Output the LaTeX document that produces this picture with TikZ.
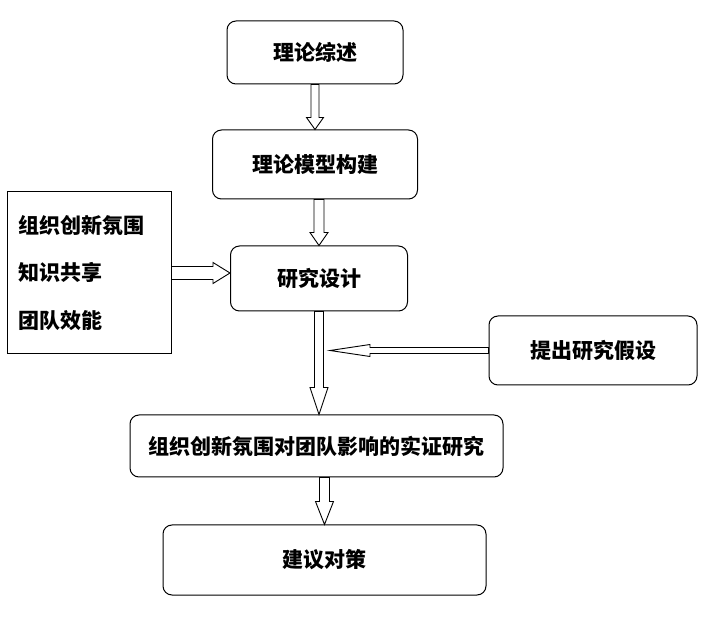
\documentclass[tikz,border=0pt]{standalone}
\usepackage{fontspec}
\newfontfamily\cjk{Noto Sans CJK SC}
\usetikzlibrary{calc, positioning}

\begin{document}
\begin{tikzpicture}[x=1pt, y=-1pt, font=\cjk\bfseries\fontsize{21}{25}\selectfont,
        n/.style={draw, line width=1pt, rounded corners=9pt},
        n2/.style={draw, line width=1pt, align=left, text width=140pt},
        e/.style n args={3}{draw, line width=0.9pt, to path={
            ($(\tikztostart)!#1!90:(\tikztotarget)$)
            -- ($(\tikztotarget)!#3!(\tikztostart)!#1!90:(\tikztotarget)$)
            -- ($(\tikztotarget)!#3!(\tikztostart)!#2!90:(\tikztotarget)$)
            -- (\tikztotarget)
            -- ($(\tikztotarget)!#3!(\tikztostart)!#2!-90:(\tikztotarget)$)
            -- ($(\tikztotarget)!#3!(\tikztostart)!#1!-90:(\tikztotarget)$)
            -- ($(\tikztostart)!#1!-90:(\tikztotarget)$) -- cycle}}]
        \useasboundingbox (0,0) rectangle (705,620);

        \node[n, minimum width=176pt, minimum height=63pt] (n1) at (315,52.5) {理论综述};
        \node[n, minimum width=205pt, minimum height=69pt, below=45pt of n1] (n2) {理论模型构建};
        \node[n, minimum width=177pt, minimum height=65pt, below=46pt of n2, xshift=4pt] (n3) {研究设计};
        \node[n2, minimum width=164pt, minimum height=162pt, font=\cjk\bfseries\fontsize{21}{47.5}\selectfont] (nl) at (89,273) {组织创新氛围\\知识共享\\团队效能};
        \node[n, minimum width=208pt, minimum height=69pt] (nr) at (593,350.5) {提出研究假设};
        \node[n, minimum width=373pt, minimum height=62pt] (n4) at (316.5,446) {组织创新氛围对团队影响的实证研究};
        \node[n, minimum width=323pt, minimum height=70pt] (n5) at (324.5,560) {建议对策};
        \coordinate (hp) at (330,349);

        \draw[e={4pt}{8.5pt}{12pt}] (n1.south) to (n2.north);
        \draw[e={5pt}{9pt}{13pt}] (n3.north |- n2.south) to (n3.north);
        \draw[e={6.5pt}{10.5pt}{17pt}] (nl.east) to (nl.east -| n3.west);
        \draw[e={4.5pt}{9pt}{27pt}] (n3.south) to (n3.south |- n4.north);
        \draw[e={3pt}{6pt}{40pt}] (nr.west) to (nr.west -| hp);
        \draw[e={5pt}{9pt}{23pt}] (n5.north |- n4.south) to (n5.north);
\end{tikzpicture}
\end{document}
